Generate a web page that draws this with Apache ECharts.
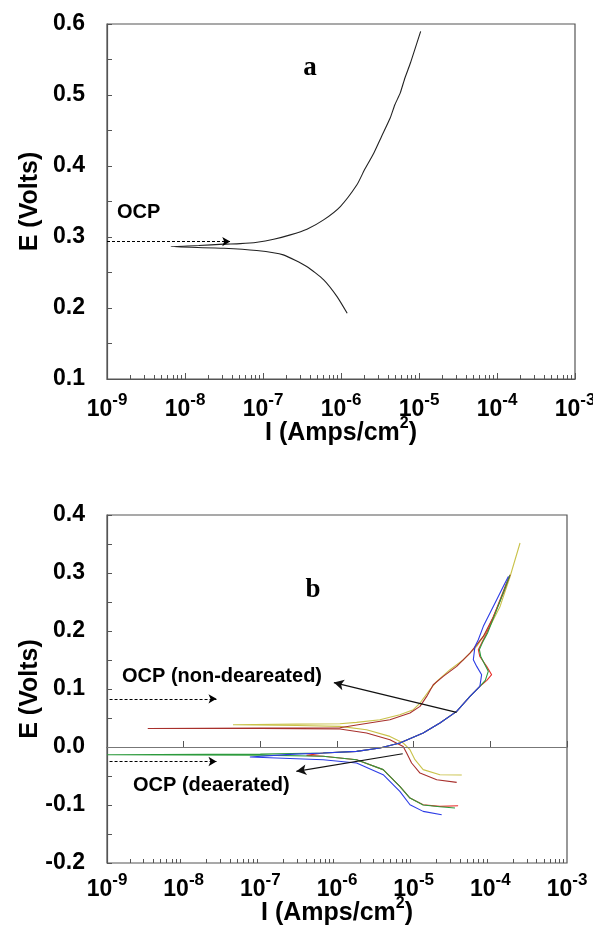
<!DOCTYPE html>
<html><head><meta charset="utf-8">
<script src="https://cdn.jsdelivr.net/npm/echarts@6/dist/echarts.min.js"></script>
<style>html,body{margin:0;padding:0;background:#fff}#c{width:593px;height:936px}</style>
</head><body><div id="c"></div>
<script>
// ---- tick values ----
const decadeTicks = [1e-9, 1e-8, 1e-7, 1e-6, 1e-5, 1e-4, 1e-3];
const minorTicks = [
  2e-9,3e-9,4e-9,5e-9,6e-9,7e-9,8e-9,9e-9,
  2e-8,3e-8,4e-8,5e-8,6e-8,7e-8,8e-8,9e-8,
  2e-7,3e-7,4e-7,5e-7,6e-7,7e-7,8e-7,9e-7,
  2e-6,3e-6,4e-6,5e-6,6e-6,7e-6,8e-6,9e-6,
  2e-5,3e-5,4e-5,5e-5,6e-5,7e-5,8e-5,9e-5,
  2e-4,3e-4,4e-4,5e-4,6e-4,7e-4,8e-4,9e-4];
const aYRange = [0.1, 0.6];
const bYRange = [-0.2, 0.4];

// ---- chart a: single polarization curve (cathodic end -> tip -> anodic end) ----
const aI = [1.2e-6, 8.9e-7, 6.0e-7, 3.63e-7, 1.82e-7, 8.3e-8, 3.16e-8, 6.6e-9, 1.5e-8, 3.13e-8, 5.1e-8, 8.4e-8, 1.37e-7, 2.24e-7, 3.66e-7, 5.98e-7, 9.8e-7, 1.6e-6, 2.0e-6, 2.63e-6, 3.31e-6, 4.27e-6, 4.9e-6, 5.75e-6, 6.6e-6, 7.76e-6, 1.05e-5];
const aE = [0.1926, 0.216, 0.2396, 0.2584, 0.2748, 0.2809, 0.2842, 0.2865, 0.288, 0.2899, 0.2907, 0.2927, 0.2968, 0.3030, 0.3110, 0.3241, 0.3429, 0.3735, 0.3946, 0.418, 0.4416, 0.4675, 0.4862, 0.503, 0.524, 0.545, 0.5896];

// ---- chart b: non-deaerated (yellow, dark red) ----
const bYellowI = [4.24e-5, 2.2e-5, 1.33e-5, 1.04e-5, 8.95e-6, 7.3e-6, 4.9e-6, 2.43e-6, 1.09e-6, 3.0e-7, 4.4e-8,
  3.0e-7, 1.09e-6, 1.8e-6, 3.63e-6, 6.6e-6, 9.9e-6, 1.21e-5, 1.63e-5, 2.0e-5, 2.98e-5, 4.45e-5, 6.64e-5, 9.9e-5, 1.34e-4, 1.81e-4, 2.44e-4];
const bYellowE = [-0.0483, -0.0478, -0.039, -0.0219, -0.0047, 0.0069, 0.0183, 0.0298, 0.0355, 0.037, 0.0384,
  0.0395, 0.040, 0.0424, 0.047, 0.0557, 0.0643, 0.0758, 0.0988, 0.1131, 0.1333, 0.1505, 0.1734, 0.208, 0.2424, 0.294, 0.3517];

const bDarkRedI = [3.64e-5, 2.0e-5, 1.21e-5, 9.4e-6, 8.1e-6, 7.3e-6, 4.9e-6, 2.43e-6, 1.09e-6, 1.0e-7, 3.4e-9,
  1.0e-7, 1.09e-6, 1.8e-6, 4.9e-6, 8.95e-6, 1.21e-5, 1.48e-5, 1.8e-5, 2.43e-5, 3.64e-5, 5.43e-5, 8.1e-5, 1.1e-4, 1.48e-4, 1.81e-4];
const bDarkRedE = [-0.061, -0.0564, -0.0449, -0.0276, -0.0104, 0.001, 0.0126, 0.0241, 0.031, 0.032, 0.032,
  0.0325, 0.0333, 0.038, 0.047, 0.0586, 0.070, 0.0872, 0.1074, 0.1217, 0.139, 0.162, 0.1907, 0.2252, 0.2655, 0.297];

// ---- chart b: deaerated (red, green, blue) ----
const bRedI = [3.8e-5, 2.2e-5, 1.33e-5, 8.95e-6, 6.6e-6, 4.0e-6, 1.8e-6, 6.6e-7, 4.0e-7,
  4.0e-7, 6.6e-7, 1.8e-6, 3.63e-6, 6.6e-6, 1.33e-5, 2.2e-5, 3.64e-5, 5.43e-5, 7.3e-5, 9.0e-5, 1.04e-4, 8.95e-5, 7.3e-5, 6.97e-5, 7.7e-5, 8.95e-5, 1.1e-4, 1.34e-4, 1.56e-4, 1.77e-4];
const bRedE = [-0.1012, -0.1024, -0.0995, -0.088, -0.068, -0.039, -0.0219, -0.016, -0.0145,
  -0.013, -0.0103, -0.0076, -0.0017, 0.0069, 0.0241, 0.0414, 0.0614, 0.0872, 0.1045, 0.115, 0.1247, 0.139, 0.156, 0.1678, 0.1793, 0.1966, 0.2252, 0.254, 0.277, 0.294];

const bGreenI = [3.46e-5, 2.2e-5, 1.33e-5, 8.95e-6, 6.6e-6, 4.0e-6, 1.8e-6, 6.6e-7, 1.0e-7, 1.0e-9,
  1.0e-9, 1.0e-7, 6.6e-7, 1.8e-6, 3.63e-6, 6.6e-6, 1.33e-5, 2.2e-5, 3.64e-5, 5.43e-5, 7.3e-5, 8.6e-5, 9.4e-5, 8.5e-5, 7.5e-5, 7.2e-5, 7.9e-5, 9.2e-5, 1.12e-4, 1.36e-4, 1.58e-4, 1.79e-4];
const bGreenE = [-0.1052, -0.103, -0.100, -0.088, -0.068, -0.039, -0.022, -0.016, -0.014, -0.0133,
  -0.0125, -0.012, -0.0103, -0.0076, -0.0017, 0.0069, 0.0241, 0.0414, 0.0614, 0.0872, 0.1045, 0.115, 0.1304, 0.142, 0.156, 0.168, 0.18, 0.1966, 0.2252, 0.254, 0.277, 0.296];

const bBlueI = [2.32e-5, 1.33e-5, 8.95e-6, 6.6e-6, 4.0e-6, 1.8e-6, 6.6e-7, 7.3e-8,
  7.3e-8, 2.43e-7, 6.6e-7, 1.8e-6, 3.63e-6, 6.6e-6, 1.33e-5, 2.2e-5, 3.64e-5, 5.43e-5, 7.3e-5, 7.7e-5, 6.64e-5, 6.0e-5, 6.3e-5, 6.97e-5, 8.1e-5, 9.9e-5, 1.21e-4, 1.48e-4, 1.72e-4];
const bBlueE = [-0.1167, -0.111, -0.0995, -0.0765, -0.0478, -0.0276, -0.0219, -0.0172,
  -0.0155, -0.0127, -0.0103, -0.0076, -0.0017, 0.0069, 0.0241, 0.0414, 0.0614, 0.0872, 0.1045, 0.1247, 0.139, 0.1505, 0.1734, 0.185, 0.208, 0.231, 0.254, 0.277, 0.294];

// ---- annotations (data coordinates) ----
const aOcpArrow = [[1e-9, 0.2935], [3.8e-8, 0.2935]];
const bOcpNonArrow = [[1.08e-9, 0.083], [2.68e-8, 0.083]];
const bOcpDeArrow = [[1.08e-9, -0.025], [2.68e-8, -0.025]];
const bPointerNon = [[3.63e-5, 0.0597], [9.1e-7, 0.111]];
const bPointerDe = [[7.2e-6, -0.0116], [2.95e-7, -0.042]];

const FONT = "'Liberation Sans', Arial, Helvetica, sans-serif";
const pairs = (xs, ys) => xs.map((x, i) => [x, ys[i]]);

function xMain(gridIndex, labelMargin, nameGap) {
  return {
    type: 'log', logBase: 10, gridIndex, min: 1e-9, max: 1e-3, position: 'bottom',
    axisLine: { show: true, lineStyle: { color: '#555', width: 1.2 } },
    axisTick: { show: true, inside: true, length: 6, customValues: decadeTicks, lineStyle: { color: '#555', width: 1 } },
    axisLabel: {
      show: true, customValues: decadeTicks, margin: labelMargin,
      formatter: v => '{b|10}{s|' + Math.round(Math.log10(v)) + '}',
      rich: {
        b: { fontSize: 23, fontWeight: 'bold', fontFamily: FONT, color: '#000', lineHeight: 36 },
        s: { fontSize: 17, fontWeight: 'bold', fontFamily: FONT, color: '#000', lineHeight: 17, verticalAlign: 'top' }
      }
    },
    splitLine: { show: false }, minorTick: { show: false },
    name: '{n|I (Amps/cm}{s|2}{n|)}', nameLocation: 'middle', nameGap, nameMoveOverlap: false,
    nameTextStyle: {
      rich: {
        n: { fontSize: 25, fontWeight: 'bold', fontFamily: FONT, color: '#000', lineHeight: 34 },
        s: { fontSize: 16, fontWeight: 'bold', fontFamily: FONT, color: '#000', lineHeight: 16, verticalAlign: 'top' }
      }
    }
  };
}
function xMinor(gridIndex) {
  return {
    type: 'log', logBase: 10, gridIndex, min: 1e-9, max: 1e-3, position: 'bottom',
    axisLine: { show: false },
    axisTick: { show: true, inside: true, length: 4, customValues: minorTicks, lineStyle: { color: '#555', width: 1 } },
    axisLabel: { show: false }, splitLine: { show: false }
  };
}
function yAxisFor(gridIndex, range, nameGap) {
  return {
    type: 'value', gridIndex, min: range[0], max: range[1], interval: 0.1,
    axisLine: { show: true, lineStyle: { color: '#555', width: 1.2 } },
    axisTick: { show: true, inside: true, length: 5, lineStyle: { color: '#555', width: 1 } },
    minorTick: { show: true, splitNumber: 2, length: 5, lineStyle: { color: '#555', width: 1 } },
    axisLabel: { margin: 22, fontSize: 23, fontWeight: 'bold', fontFamily: FONT, color: '#000',
      formatter: v => v.toFixed(1) },
    splitLine: { show: false },
    name: 'E (Volts)', nameLocation: 'middle', nameGap, nameMoveOverlap: false,
    nameTextStyle: { fontSize: 25, fontWeight: 'bold', fontFamily: FONT, color: '#000' }
  };
}
function arrowPair(p, dashed) {
  return [{ coord: p[0], symbol: 'none' }, { coord: p[1], symbol: 'arrow', symbolSize: dashed ? [7, 8] : [8, 10] }];
}
function curve(name, xs, ys, color, xi, yi, extra) {
  return Object.assign({
    name, type: 'line', xAxisIndex: xi, yAxisIndex: yi, data: pairs(xs, ys),
    symbol: 'none', showSymbol: false, smooth: false,
    lineStyle: { color, width: 1.1 }, itemStyle: { color }, z: 3, silent: true
  }, extra || {});
}

const chart = echarts.init(document.getElementById('c'), null, { renderer: 'canvas' });
chart.setOption({
  backgroundColor: '#fff',
  animation: false,
  grid: [
    { left: 107, top: 24, width: 468, height: 355, show: true, borderColor: '#555', borderWidth: 1.2, outerBoundsMode: 'none', containLabel: false },
    { left: 107, top: 515, width: 460, height: 348, show: true, borderColor: '#555', borderWidth: 1.2, outerBoundsMode: 'none', containLabel: false }
  ],
  xAxis: [xMain(0, 13, 37), xMinor(0), xMain(1, 9, 33), xMinor(1)],
  yAxis: [yAxisFor(0, aYRange, 64), yAxisFor(1, bYRange, 64)],
  series: [
    curve('a', aI, aE, '#222', 0, 0, {
      smooth: 0.2,
      markLine: {
        silent: true, animation: false, label: { show: false },
        lineStyle: { color: '#000', width: 1, type: [3, 2] },
        data: [arrowPair(aOcpArrow, true)]
      }
    }),
    curve('yellow', bYellowI, bYellowE, '#c9c24a', 2, 1, {
      markLine: {
        silent: true, animation: false, label: { show: false }, symbol: 'none',
        lineStyle: { color: '#777', width: 1, type: 'solid' },
        data: [{ yAxis: 0 }]
      }
    }),
    curve('darkred', bDarkRedI, bDarkRedE, '#a8302c', 2, 1, {
      markLine: {
        silent: true, animation: false, label: { show: false },
        lineStyle: { color: '#000', width: 1, type: [3, 2] },
        data: [arrowPair(bOcpNonArrow, true), arrowPair(bOcpDeArrow, true)]
      }
    }),
    curve('red', bRedI, bRedE, '#e8302c', 2, 1),
    curve('green', bGreenI, bGreenE, '#2c9a3c', 2, 1, {
      markLine: {
        silent: true, animation: false, label: { show: false },
        lineStyle: { color: '#111', width: 1.2, type: 'solid' },
        data: [arrowPair(bPointerNon, false), arrowPair(bPointerDe, false)]
      }
    }),
    curve('blue', bBlueI, bBlueE, '#2c3ce6', 2, 1)
  ],
  graphic: [
    { type: 'text', x: 310, y: 68, style: { text: 'a', font: "bold 27px 'Liberation Serif', 'Times New Roman', serif", fill: '#000', textAlign: 'center', textVerticalAlign: 'middle' } },
    { type: 'text', x: 117, y: 212, style: { text: 'OCP', font: "bold 20px " + FONT, fill: '#000', textAlign: 'left', textVerticalAlign: 'middle' } },
    { type: 'text', x: 313, y: 590, style: { text: 'b', font: "bold 27px 'Liberation Serif', 'Times New Roman', serif", fill: '#000', textAlign: 'center', textVerticalAlign: 'middle' } },
    { type: 'text', x: 122, y: 676, style: { text: 'OCP (non-deareated)', font: "bold 20px " + FONT, fill: '#000', textAlign: 'left', textVerticalAlign: 'middle' } },
    { type: 'text', x: 133, y: 785, style: { text: 'OCP (deaerated)', font: "bold 20px " + FONT, fill: '#000', textAlign: 'left', textVerticalAlign: 'middle' } }
  ]
});
</script>
</body></html>
